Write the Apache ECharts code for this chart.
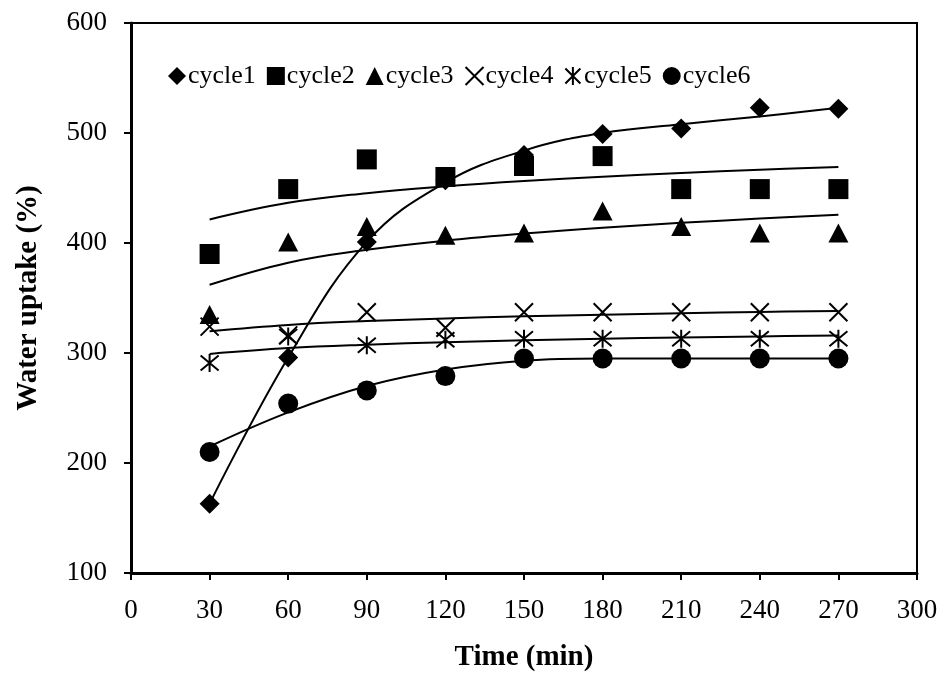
<!DOCTYPE html>
<html>
<head>
<meta charset="utf-8">
<script src="https://cdn.jsdelivr.net/npm/echarts@6/dist/echarts.min.js"></script>
<style>
html,body{margin:0;padding:0;background:#fff;}
#chart{width:944px;height:673px;}
</style>
</head>
<body>
<div id="chart"></div>
<script>
// Data
var times = [30, 60, 90, 120, 150, 180, 210, 240, 270];
var cycle1 = [163, 296, 401, 457, 480, 499, 504, 523, 522];
var cycle2 = [390, 449, 476, 460, 470, 479, 449, 449, 449];
var cycle3 = [335, 401, 415, 407, 409, 429, 415, 409, 409];
var cycle4 = [324, 316, 337, 323, 337, 337, 337, 337, 337];
var cycle5 = [291, 315, 307, 312, 313, 313, 313, 313, 313];
var cycle6 = [210, 254, 266, 279, 295, 295, 295, 295, 295];
// Trend-line values read at each time
var trend1 = [163, 296, 401, 455, 484, 500, 508, 515, 523];
var trend2 = [421.4, 436.5, 445.3, 451.5, 456.4, 460.3, 463.7, 466.6, 469.1];
var trend3 = [362.0, 382.1, 393.8, 402.1, 408.6, 413.9, 418.3, 422.2, 425.6];
var trend4 = [319.7, 325.5, 329.0, 331.4, 333.3, 334.8, 336.1, 337.3, 338.2];
var trend5 = [299.2, 304.5, 307.6, 309.8, 311.5, 312.9, 314.1, 315.1, 316.0];
var trend6 = [215, 246, 270, 285, 293, 295, 295, 295, 295];
var seriesNames = ['cycle1', 'cycle2', 'cycle3', 'cycle4', 'cycle5', 'cycle6'];
var xTicks = [0, 30, 60, 90, 120, 150, 180, 210, 240, 270, 300];
var yTicks = [100, 200, 300, 400, 500, 600];

function pairs(ys) { return times.map(function (t, i) { return [t, ys[i]]; }); }

var FONT = '"Liberation Serif", "Times New Roman", serif';
var symbols = [
  'path://M0,-1L1,0L0,1L-1,0Z',
  'rect',
  'triangle',
  'path://M0,0L10,10M10,0L0,10',
  'path://M0,0L10,10M10,0L0,10M5,-1L5,11',
  'circle'
];
var sizes = [[20, 20], [20, 20], [20, 19], [18, 18], [18, 18], [20, 20]];
var points = [cycle1, cycle2, cycle3, cycle4, cycle5, cycle6];
var trends = [trend1, trend2, trend3, trend4, trend5, trend6];

var series = [];
trends.forEach(function (tr, i) {
  series.push({
    name: 'trend' + (i + 1),
    type: 'line',
    data: pairs(tr),
    showSymbol: false,
    symbol: 'none',
    smooth: 0.4,
    lineStyle: { color: '#000', width: 2 },
    z: 2,
    silent: true
  });
});
points.forEach(function (ys, i) {
  var stroked = (i === 3 || i === 4);
  series.push({
    name: seriesNames[i],
    type: 'scatter',
    data: pairs(ys),
    symbol: symbols[i],
    symbolSize: sizes[i],
    itemStyle: stroked ? { color: 'rgba(0,0,0,0)', borderColor: '#000', borderWidth: 2, opacity: 1 } : { color: '#000', opacity: 1 },
    z: 3
  });
});

var chart = echarts.init(document.getElementById('chart'), null, { renderer: 'canvas' });
chart.setOption({
  animation: false,
  backgroundColor: '#fff',
  grid: { left: 131, right: 27, top: 23, bottom: 100, containLabel: false, outerBoundsMode: 'none',
    show: true, borderColor: '#000', borderWidth: 2, backgroundColor: 'transparent' },
  legend: {
    data: seriesNames,
    left: 163, top: 58,
    itemWidth: 18, itemHeight: 18, itemGap: 11,
    textStyle: { fontFamily: FONT, fontSize: 26, color: '#000', padding: [0, 0, 0, -3] }
  },
  xAxis: {
    type: 'value', min: 0, max: 300, interval: 30,
    name: 'Time (min)', nameLocation: 'middle', nameGap: 70,
    nameTextStyle: { fontFamily: FONT, fontSize: 29, fontWeight: 'bold', color: '#000' },
    axisLine: { show: true, lineStyle: { color: '#000', width: 3 } },
    axisTick: { show: true, length: 7, lineStyle: { color: '#000', width: 2 } },
    axisLabel: { fontFamily: FONT, fontSize: 27, color: '#000', margin: 24,
      formatter: function (v) { return xTicks.indexOf(v) >= 0 ? String(v) : ''; } },
    splitLine: { show: false }
  },
  yAxis: {
    type: 'value', min: 100, max: 600, interval: 100,
    name: 'Water uptake (%)', nameLocation: 'middle', nameGap: 88,
    nameTextStyle: { fontFamily: FONT, fontSize: 29, fontWeight: 'bold', color: '#000' },
    axisLine: { show: true, lineStyle: { color: '#000', width: 3 } },
    axisTick: { show: true, length: 7, lineStyle: { color: '#000', width: 2 } },
    axisLabel: { fontFamily: FONT, fontSize: 27, color: '#000', margin: 24,
      formatter: function (v) { return yTicks.indexOf(v) >= 0 ? String(v) : ''; } },
    splitLine: { show: false }
  },
  series: series
});
</script>
</body>
</html>
